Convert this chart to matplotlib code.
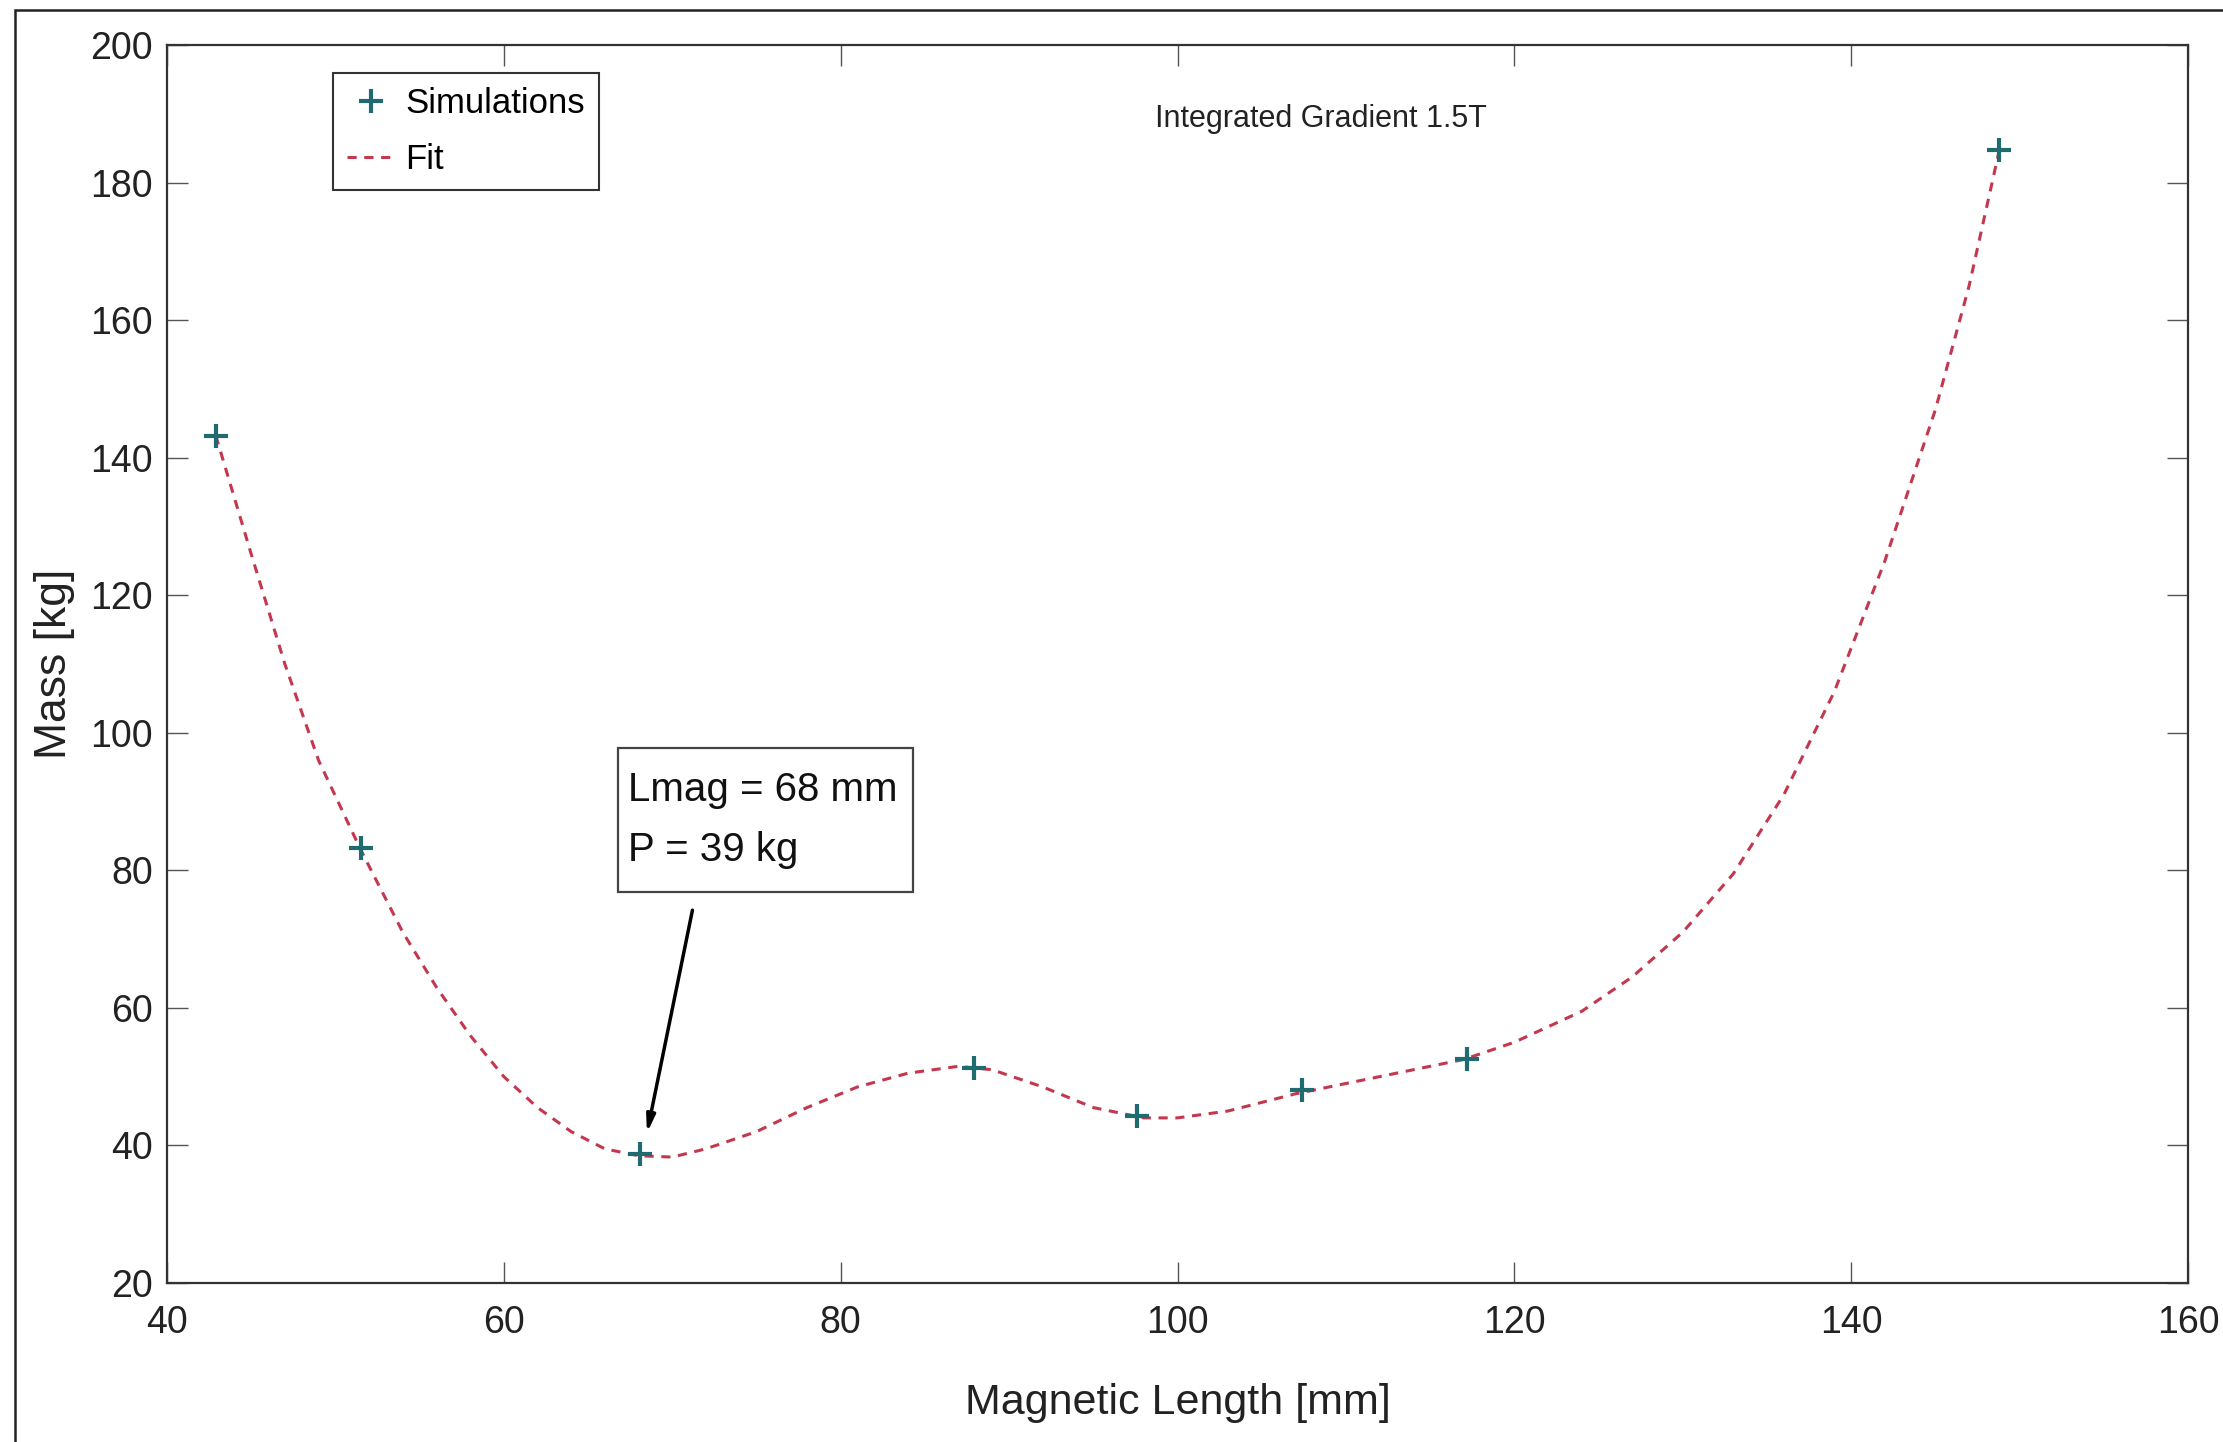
import matplotlib.pyplot as plt
from matplotlib.patches import Rectangle

# Simulation points
sim_length = [42.9, 51.5, 68.1, 87.9, 97.6, 107.4, 117.2, 148.8]
sim_mass = [143.2, 83.2, 38.7, 51.3, 44.3, 48.0, 52.5, 184.8]

# Fit curve, sampled along the dashed line
fit_length = [42.9, 45, 47, 49, 51.5, 54, 56, 58, 60, 62, 64, 66, 68, 70, 72,
              75, 78, 81, 84, 87, 89, 92, 95, 98, 100, 103, 107, 112, 117,
              120, 124, 127, 130, 133, 136, 139, 142, 145, 147, 148.8]
fit_mass = [143.2, 126, 110, 96, 83, 71, 63, 56, 50, 45.5, 42, 39.5, 38.5,
            38.3, 39.5, 42, 45.5, 48.5, 50.5, 51.5, 51, 48.5, 45.5, 44, 44,
            45, 47.5, 50, 52.5, 55, 59.5, 64.5, 71, 79.5, 91, 106, 125, 147,
            165, 184.8]

x_ticks = [40, 60, 80, 100, 120, 140, 160]
y_ticks = [20, 40, 60, 80, 100, 120, 140, 160, 180, 200]

plt.rcParams['font.family'] = ['Liberation Sans', 'DejaVu Sans']

fig = plt.figure(figsize=(22.23, 14.42), dpi=100)
ax = fig.add_axes([0.0751, 0.1103, 0.9092, 0.8585])

ax.plot(sim_length, sim_mass, linestyle='none', marker='+', markersize=17,
        markeredgewidth=3.0, color='#1f6b70', label='Simulations', zorder=3)
ax.plot(fit_length, fit_mass, linestyle='--', dashes=(3, 2.5), linewidth=2.2,
        color='#c4384f', label='Fit', zorder=2)

ax.set_xlim(40, 160)
ax.set_ylim(20, 200)
ax.set_xticks(x_ticks)
ax.set_yticks(y_ticks)
ax.tick_params(direction='in', top=True, right=True, length=15, width=1,
               colors='#555555', labelcolor='#222222', labelsize=27)
ax.tick_params(axis='y', pad=10)
ax.tick_params(axis='x', pad=16)
for s in ax.spines.values():
    s.set_linewidth(1.6)
    s.set_color('#333333')

ax.set_xlabel('Magnetic Length [mm]', fontsize=31, color='#222222')
ax.set_ylabel('Mass [kg]', fontsize=32, color='#222222')
ax.xaxis.set_label_coords(0.5, -0.081)
ax.yaxis.set_label_coords(-0.0455, 0.5)

ax.text(108.5, 189.3, 'Integrated Gradient 1.5T', fontsize=22,
        ha='center', va='center', color='#222222')

leg = ax.legend(loc='upper left', bbox_to_anchor=(0.082, 0.977),
                borderaxespad=0, fontsize=25, fancybox=False,
                handlelength=1.4, handletextpad=0.3, borderpad=0.4,
                labelspacing=0.65, framealpha=1)
leg.get_frame().set_edgecolor('#333333')
leg.get_frame().set_linewidth(1.5)

# annotation box and arrow
ax.add_patch(Rectangle((66.8, 76.8), 17.5, 21.0, fill=False,
                       edgecolor='#444444', linewidth=1.6, zorder=4))
ax.text(67.35, 94.5, 'Lmag = 68 mm\nP = 39 kg', fontsize=29, ha='left',
        va='top', linespacing=1.75, color='#111111', zorder=5)
ax.annotate('', xy=(68.5, 41.8), xytext=(71.2, 74.2),
            arrowprops=dict(arrowstyle='-|>,head_length=1.0,head_width=0.25',
                            color='black', linewidth=2.5, shrinkA=0, shrinkB=0))

# outer frame of the original figure (left and top edges visible)
fig.add_artist(Rectangle((15 / 2223, -0.1), 1.2, 1.1 - 10 / 1442,
                         transform=fig.transFigure, fill=False,
                         edgecolor='#222222', linewidth=1.8))

fig.savefig('out.png', dpi=100)
